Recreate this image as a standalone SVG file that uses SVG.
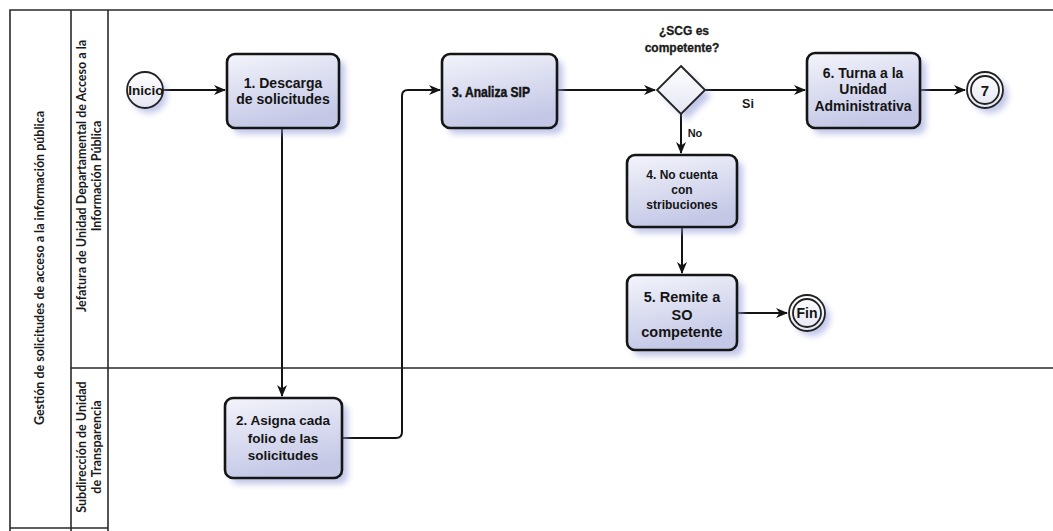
<svg xmlns="http://www.w3.org/2000/svg" width="1053" height="531" viewBox="0 0 1053 531">
<style>
.pool{stroke:#2a2a2a;stroke-width:1.6;fill:none}
.lane{font-family:Lato,"Open Sans","Liberation Sans",sans-serif;font-weight:bold;font-size:12.5px;fill:#1a1a1a;text-anchor:middle}
.box{fill:url(#g);stroke:#151515;stroke-width:2.6}
.shadow{fill:#8f98d8;opacity:0.55;filter:url(#blur)}
.t{font-family:"Liberation Sans",Arial,sans-serif;font-weight:bold;fill:#141414;text-anchor:middle}
.c{stroke:#141414;stroke-width:2;fill:none;marker-end:url(#arr)}
.ev{fill:url(#g2);stroke:#222;stroke-width:1.8}
.lbl{font-family:"Liberation Sans",Arial,sans-serif;font-weight:bold;fill:#1a1a1a;text-anchor:middle}
</style>
<defs>
<linearGradient id="g" x1="0" y1="0" x2="0.3" y2="1">
<stop offset="0" stop-color="#f3f4fb"/>
<stop offset="1" stop-color="#c4c8e6"/>
</linearGradient>
<linearGradient id="g2" x1="0" y1="0" x2="0" y2="1">
<stop offset="0" stop-color="#ffffff"/>
<stop offset="1" stop-color="#e4e6f3"/>
</linearGradient>
<filter id="blur" x="-30%" y="-30%" width="160%" height="160%">
<feGaussianBlur stdDeviation="3"/>
</filter>
<marker id="arr" viewBox="0 0 12 10" refX="11" refY="5" markerWidth="12" markerHeight="10" markerUnits="userSpaceOnUse" orient="auto">
<path d="M0,0 L12,5 L0,10 L3.5,5 z" fill="#141414"/>
</marker>
</defs>
<rect width="1053" height="531" fill="#ffffff"/>

<g id="pool">
<path class="pool" d="M1053,10 H10 V531 M71,10 V531 M108,10 V531 M71,368 H1053 M10,528 H108"/>
<text class="lane" transform="translate(44,268) rotate(-90)">Gestión de solicitudes de acceso a la información pública</text>
</g>
<g id="lane-jefatura">
<text class="lane" transform="translate(86,176) rotate(-90)">Jefatura de Unidad Departamental de Acceso a la</text>
<text class="lane" transform="translate(101,176) rotate(-90)">Información Pública</text>
</g>
<g id="lane-subdireccion">
<text class="lane" transform="translate(86,447) rotate(-90)">Subdirección de Unidad</text>
<text class="lane" transform="translate(101,447) rotate(-90)">de Transparencia</text>
</g>

<g id="connectors">
<path class="c" d="M163,90 H225"/>
<path class="c" d="M282,129 V396"/>
<path class="c" d="M343,438 H396 Q402,438 402,432 V96 Q402,90 408,90 H440"/>
<path class="c" d="M558,90 H655"/>
<path class="c" d="M705,90 H805"/>
<path class="c" d="M681,114 V153"/>
<path class="c" d="M682,228 V273"/>
<path class="c" d="M738,313 H787"/>
<path class="c" d="M921,90 H965"/>
<text class="lbl" x="748" y="108" font-size="12.5" font-weight="normal">Si</text>
<text class="lbl" x="695" y="137" font-size="11">No</text>
</g>

<g id="inicio">
<circle class="shadow" cx="149" cy="95" r="18"/>
<circle class="ev" cx="145" cy="90" r="18"/>
<text class="t" x="146" y="95" font-size="13.5" font-weight="normal">Inicio</text>
</g>

<g id="n1">
<rect class="shadow" x="233" y="60" width="112" height="74" rx="8"/>
<rect class="box" x="227" y="54" width="112" height="74" rx="8"/>
<text class="t" x="283" y="88" font-size="14">1. Descarga</text>
<text class="t" x="283" y="104" font-size="14">de solicitudes</text>
</g>

<g id="n2">
<rect class="shadow" x="231" y="404" width="117" height="80" rx="8"/>
<rect class="box" x="225" y="398" width="117" height="80" rx="8"/>
<text class="t" x="283" y="425" font-size="13.5">2. Asigna cada</text>
<text class="t" x="283" y="443" font-size="13.5">folio de las</text>
<text class="t" x="283" y="460" font-size="13.5">solicitudes</text>
</g>

<g id="n3">
<rect class="shadow" x="448" y="60" width="115" height="74" rx="8"/>
<rect class="box" x="442" y="54" width="115" height="74" rx="8"/>
<text class="t" x="491" y="97" font-size="14" font-weight="normal" stroke="#141414" stroke-width="0.45" textLength="78" lengthAdjust="spacingAndGlyphs">3. Analiza SIP</text>
</g>

<g id="gw">
<path class="shadow" d="M687,72 L711,96 L687,120 L663,96 z"/>
<path d="M681,66 L705,90 L681,114 L657,90 z" fill="url(#g2)" stroke="#222" stroke-width="1.8"/>
<text class="lbl" x="684" y="35" font-size="12" font-weight="normal" stroke="#1a1a1a" stroke-width="0.3">¿SCG es</text>
<text class="lbl" x="682" y="52" font-size="12" font-weight="normal" stroke="#1a1a1a" stroke-width="0.3">competente?</text>
</g>

<g id="n4">
<rect class="shadow" x="633" y="161" width="110" height="72" rx="8"/>
<rect class="box" x="627" y="155" width="110" height="72" rx="8"/>
<text class="t" x="682" y="179" font-size="12">4. No cuenta</text>
<text class="t" x="682" y="194" font-size="12">con</text>
<text class="t" x="682" y="209" font-size="12">stribuciones</text>
</g>

<g id="n5">
<rect class="shadow" x="633" y="281" width="110" height="75" rx="8"/>
<rect class="box" x="627" y="275" width="110" height="75" rx="8"/>
<text class="t" x="682" y="302" font-size="14.5">5. Remite a</text>
<text class="t" x="682" y="320" font-size="14.5">SO</text>
<text class="t" x="682" y="337" font-size="14.5">competente</text>
</g>

<g id="n6">
<rect class="shadow" x="813" y="59" width="113" height="75" rx="8"/>
<rect class="box" x="807" y="53" width="113" height="75" rx="8"/>
<text class="t" x="863" y="78" font-size="14">6. Turna a la</text>
<text class="t" x="863" y="94" font-size="14">Unidad</text>
<text class="t" x="863" y="111" font-size="14">Administrativa</text>
</g>

<g id="e7">
<circle class="shadow" cx="990" cy="95" r="18"/>
<circle class="ev" cx="985" cy="90" r="18"/>
<circle cx="985" cy="90" r="14" fill="none" stroke="#222" stroke-width="1.8"/>
<text class="t" x="985" y="95.5" font-size="15">7</text>
</g>

<g id="fin">
<circle class="shadow" cx="812" cy="318" r="18"/>
<circle class="ev" cx="807" cy="313" r="18"/>
<circle cx="807" cy="313" r="14" fill="none" stroke="#222" stroke-width="1.8"/>
<text class="t" x="807" y="318" font-size="14" font-weight="normal">Fin</text>
</g>
</svg>
